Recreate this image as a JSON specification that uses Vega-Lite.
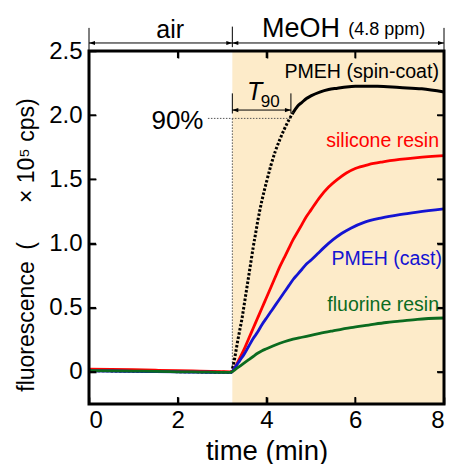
{
  "$schema": "https://vega.github.io/schema/vega-lite/v6.json",
  "width": 355,
  "height": 353,
  "autosize": {"type": "none"},
  "padding": {"left": 89, "top": 51, "right": 5, "bottom": 60},
  "config": {
    "view": {"stroke": null},
    "font": "Liberation Sans",
    "axis": {"domain": false, "grid": false, "ticks": true, "tickColor": "black", "tickWidth": 1.6, "tickOpacity": 1, "labelColor": "black", "labelFont": "Liberation Sans", "titleFont": "Liberation Sans", "titleColor": "black", "titleFontWeight": "normal"}
  },
  "datasets": {
    "curves": [
      {"s":"spin","t":0,"y":0.01},{"s":"spin","t":0.5,"y":0.008},{"s":"spin","t":1,"y":0.006},{"s":"spin","t":1.5,"y":0.004},{"s":"spin","t":2,"y":0.002},{"s":"spin","t":2.5,"y":0.0},{"s":"spin","t":3,"y":-0.003},{"s":"spin","t":3.2,"y":-0.004},{"s":"spin","t":3.25,"y":0.05},{"s":"spin","t":3.3,"y":0.14},{"s":"spin","t":3.35,"y":0.24},{"s":"spin","t":3.4,"y":0.33},{"s":"spin","t":3.45,"y":0.42},{"s":"spin","t":3.5,"y":0.53},{"s":"spin","t":3.55,"y":0.64},{"s":"spin","t":3.6,"y":0.75},{"s":"spin","t":3.65,"y":0.86},{"s":"spin","t":3.7,"y":0.97},{"s":"spin","t":3.75,"y":1.07},{"s":"spin","t":3.8,"y":1.17},{"s":"spin","t":3.85,"y":1.26},{"s":"spin","t":3.9,"y":1.34},{"s":"spin","t":4.0,"y":1.48},{"s":"spin","t":4.1,"y":1.61},{"s":"spin","t":4.2,"y":1.72},{"s":"spin","t":4.3,"y":1.81},{"s":"spin","t":4.4,"y":1.89},{"s":"spin","t":4.5,"y":1.96},{"s":"spin","t":4.6,"y":2.02},{"s":"spin","t":4.7,"y":2.07},{"s":"spin","t":4.8,"y":2.1},{"s":"spin","t":4.9,"y":2.13},{"s":"spin","t":5.0,"y":2.15},{"s":"spin","t":5.2,"y":2.18},{"s":"spin","t":5.4,"y":2.2},{"s":"spin","t":5.6,"y":2.21},{"s":"spin","t":5.8,"y":2.22},{"s":"spin","t":6.0,"y":2.225},{"s":"spin","t":6.5,"y":2.225},{"s":"spin","t":7.0,"y":2.215},{"s":"spin","t":7.5,"y":2.205},{"s":"spin","t":8.0,"y":2.18},
      {"s":"silicone","t":0,"y":0.022},{"s":"silicone","t":0.5,"y":0.02},{"s":"silicone","t":1,"y":0.017},{"s":"silicone","t":1.5,"y":0.013},{"s":"silicone","t":2,"y":0.01},{"s":"silicone","t":2.5,"y":0.006},{"s":"silicone","t":3,"y":0.002},{"s":"silicone","t":3.2,"y":0.0},{"s":"silicone","t":3.3,"y":0.04},{"s":"silicone","t":3.4,"y":0.11},{"s":"silicone","t":3.5,"y":0.18},{"s":"silicone","t":3.6,"y":0.26},{"s":"silicone","t":3.7,"y":0.34},{"s":"silicone","t":3.8,"y":0.42},{"s":"silicone","t":3.9,"y":0.5},{"s":"silicone","t":4.0,"y":0.58},{"s":"silicone","t":4.1,"y":0.66},{"s":"silicone","t":4.2,"y":0.74},{"s":"silicone","t":4.3,"y":0.82},{"s":"silicone","t":4.4,"y":0.89},{"s":"silicone","t":4.5,"y":0.96},{"s":"silicone","t":4.6,"y":1.03},{"s":"silicone","t":4.7,"y":1.09},{"s":"silicone","t":4.8,"y":1.15},{"s":"silicone","t":4.9,"y":1.21},{"s":"silicone","t":5.0,"y":1.26},{"s":"silicone","t":5.2,"y":1.36},{"s":"silicone","t":5.4,"y":1.44},{"s":"silicone","t":5.6,"y":1.5},{"s":"silicone","t":5.8,"y":1.55},{"s":"silicone","t":6.0,"y":1.585},{"s":"silicone","t":6.3,"y":1.615},{"s":"silicone","t":6.6,"y":1.635},{"s":"silicone","t":7.0,"y":1.655},{"s":"silicone","t":7.4,"y":1.67},{"s":"silicone","t":8.0,"y":1.685},
      {"s":"cast","t":0,"y":0.008},{"s":"cast","t":0.5,"y":0.007},{"s":"cast","t":1,"y":0.004},{"s":"cast","t":1.5,"y":0.002},{"s":"cast","t":2,"y":0.0},{"s":"cast","t":2.5,"y":-0.002},{"s":"cast","t":3,"y":-0.004},{"s":"cast","t":3.2,"y":-0.004},{"s":"cast","t":3.3,"y":0.04},{"s":"cast","t":3.4,"y":0.09},{"s":"cast","t":3.5,"y":0.14},{"s":"cast","t":3.6,"y":0.2},{"s":"cast","t":3.7,"y":0.26},{"s":"cast","t":3.8,"y":0.31},{"s":"cast","t":3.9,"y":0.37},{"s":"cast","t":4.0,"y":0.42},{"s":"cast","t":4.1,"y":0.47},{"s":"cast","t":4.2,"y":0.52},{"s":"cast","t":4.3,"y":0.57},{"s":"cast","t":4.4,"y":0.62},{"s":"cast","t":4.5,"y":0.67},{"s":"cast","t":4.6,"y":0.72},{"s":"cast","t":4.7,"y":0.76},{"s":"cast","t":4.8,"y":0.8},{"s":"cast","t":4.9,"y":0.84},{"s":"cast","t":5.0,"y":0.87},{"s":"cast","t":5.15,"y":0.92},{"s":"cast","t":5.3,"y":0.97},{"s":"cast","t":5.5,"y":1.03},{"s":"cast","t":5.7,"y":1.08},{"s":"cast","t":5.9,"y":1.12},{"s":"cast","t":6.2,"y":1.165},{"s":"cast","t":6.6,"y":1.2},{"s":"cast","t":7.0,"y":1.225},{"s":"cast","t":7.4,"y":1.245},{"s":"cast","t":8.0,"y":1.27},
      {"s":"fluorine","t":0,"y":0.01},{"s":"fluorine","t":0.5,"y":0.008},{"s":"fluorine","t":1,"y":0.006},{"s":"fluorine","t":1.5,"y":0.004},{"s":"fluorine","t":2,"y":0.001},{"s":"fluorine","t":2.5,"y":-0.001},{"s":"fluorine","t":3,"y":-0.003},{"s":"fluorine","t":3.2,"y":-0.003},{"s":"fluorine","t":3.3,"y":0.02},{"s":"fluorine","t":3.4,"y":0.045},{"s":"fluorine","t":3.5,"y":0.07},{"s":"fluorine","t":3.6,"y":0.095},{"s":"fluorine","t":3.7,"y":0.12},{"s":"fluorine","t":3.8,"y":0.145},{"s":"fluorine","t":3.9,"y":0.165},{"s":"fluorine","t":4.0,"y":0.18},{"s":"fluorine","t":4.2,"y":0.21},{"s":"fluorine","t":4.4,"y":0.235},{"s":"fluorine","t":4.6,"y":0.255},{"s":"fluorine","t":4.8,"y":0.27},{"s":"fluorine","t":5.0,"y":0.285},{"s":"fluorine","t":5.2,"y":0.3},{"s":"fluorine","t":5.5,"y":0.32},{"s":"fluorine","t":5.9,"y":0.345},{"s":"fluorine","t":6.3,"y":0.365},{"s":"fluorine","t":6.7,"y":0.385},{"s":"fluorine","t":7.0,"y":0.395},{"s":"fluorine","t":7.4,"y":0.41},{"s":"fluorine","t":8.0,"y":0.42}
    ],
    "segments": [
      {"x":0,"x2":3.23,"y":2.5625,"y2":2.5625},
      {"x":3.23,"x2":8,"y":2.5625,"y2":2.5625},
      {"x":0,"x2":0,"y":2.5,"y2":2.68},
      {"x":3.23,"x2":3.23,"y":2.53,"y2":2.69},
      {"x":8,"x2":8,"y":2.5,"y2":2.68},
      {"x":3.23,"x2":4.55,"y":2.04,"y2":2.04},
      {"x":3.23,"x2":3.23,"y":2.013,"y2":2.17},
      {"x":4.55,"x2":4.55,"y":2.013,"y2":2.17}
    ],
    "heads": [
      {"x":0,"y":2.5625,"d":"left"},
      {"x":3.23,"y":2.5625,"d":"right"},
      {"x":3.23,"y":2.5625,"d":"left"},
      {"x":8,"y":2.5625,"d":"right"},
      {"x":3.23,"y":2.04,"d":"left"},
      {"x":4.55,"y":2.04,"d":"right"}
    ],
    "guides": [
      {"x":2.68,"x2":4.55,"y":1.975,"y2":1.975},
      {"x":3.23,"x2":3.23,"y":0,"y2":1.975}
    ],
    "ticks": [
      {"x":2,"y":-0.25,"side":"bottom"},{"x":4,"y":-0.25,"side":"bottom"},{"x":6,"y":-0.25,"side":"bottom"},
      {"x":2,"y":2.5,"side":"top"},{"x":4,"y":2.5,"side":"top"},{"x":6,"y":2.5,"side":"top"},
      {"x":0,"y":0,"side":"left"},{"x":0,"y":0.5,"side":"left"},{"x":0,"y":1,"side":"left"},{"x":0,"y":1.5,"side":"left"},{"x":0,"y":2,"side":"left"},
      {"x":8,"y":0,"side":"right"},{"x":8,"y":0.5,"side":"right"},{"x":8,"y":1,"side":"right"},{"x":8,"y":1.5,"side":"right"},{"x":8,"y":2,"side":"right"}
    ]
  },
  "layer": [
    {
      "data": {"values": [{"a": 3.23, "b": 8, "lo": -0.25, "hi": 2.5}]},
      "mark": {"type": "rect", "color": "#fdebc9"},
      "encoding": {
        "x": {"field": "a", "type": "quantitative", "scale": {"domain": [0, 8], "nice": false, "zero": false},
          "axis": {"orient": "bottom", "zindex": 2, "offset": -7, "values": [0, 2, 4, 6, 8], "format": "d", "labelFontSize": 24, "ticks": true, "tickSize": 7, "tickColor": "black", "tickWidth": 1.6, "labelPadding": 4, "title": "time (min)", "titleFontSize": 27.5, "titleY": 62, "titleBaseline": "alphabetic"}},
        "x2": {"field": "b"},
        "y": {"field": "lo", "type": "quantitative", "scale": {"domain": [-0.25, 2.5], "nice": false, "zero": false},
          "axis": {"orient": "left", "zindex": 2, "offset": -7, "values": [0, 0.5, 1, 1.5, 2, 2.5], "labelExpr": "datum.value == 0 ? '0' : format(datum.value, '.1f')", "labelFontSize": 24, "ticks": true, "tickSize": 7, "tickColor": "black", "tickWidth": 1.6, "labelPadding": 7, "title": "fluorescence\u2002(\u2003\u2002\u2009× 10⁵ cps)", "titleFontSize": 23, "titleX": -63, "titleY": 193.5, "titleAngle": -90, "titleAlign": "center", "titleBaseline": "alphabetic"}},
        "y2": {"field": "hi"}
      }
    },
    {
      "data": {"name": "guides"},
      "mark": {"type": "rule", "color": "#555555", "strokeWidth": 1, "strokeDash": [1.5, 1.5]},
      "encoding": {
        "x": {"field": "x", "type": "quantitative", "scale": {"domain": [0, 8], "nice": false, "zero": false}, "axis": null},
        "x2": {"field": "x2"},
        "y": {"field": "y", "type": "quantitative", "scale": {"domain": [-0.25, 2.5], "nice": false, "zero": false}, "axis": null},
        "y2": {"field": "y2"}
      }
    },
    {
      "data": {"name": "curves"},
      "transform": [{"filter": "datum.s == 'spin' && datum.t <= 4.6"}],
      "mark": {"type": "line", "interpolate": "monotone", "color": "black", "strokeWidth": 3, "strokeDash": [2.5, 1.8]},
      "encoding": {
        "x": {"field": "t", "type": "quantitative", "scale": {"domain": [0, 8], "nice": false, "zero": false}, "axis": {"orient": "top", "zindex": 2, "offset": -7, "values": [2, 4, 6], "labels": false, "ticks": true, "tickSize": 7, "tickColor": "black", "tickWidth": 1.6, "title": null}},
        "y": {"field": "y", "type": "quantitative", "scale": {"domain": [-0.25, 2.5], "nice": false, "zero": false}, "axis": {"orient": "right", "zindex": 2, "offset": -7, "values": [0, 0.5, 1, 1.5, 2], "labels": false, "ticks": true, "tickSize": 7, "tickColor": "black", "tickWidth": 1.6, "title": null}}
      }
    },
    {
      "data": {"name": "curves"},
      "transform": [{"filter": "datum.s == 'spin' && datum.t >= 4.6"}],
      "mark": {"type": "line", "interpolate": "monotone", "color": "black", "strokeWidth": 3},
      "encoding": {
        "x": {"field": "t", "type": "quantitative", "scale": {"domain": [0, 8], "nice": false, "zero": false}, "axis": null},
        "y": {"field": "y", "type": "quantitative", "scale": {"domain": [-0.25, 2.5], "nice": false, "zero": false}, "axis": null}
      }
    },
    {
      "data": {"name": "curves"},
      "transform": [{"filter": "datum.s == 'silicone'"}],
      "mark": {"type": "line", "interpolate": "monotone", "color": "#ff0000", "strokeWidth": 2.8},
      "encoding": {
        "x": {"field": "t", "type": "quantitative", "scale": {"domain": [0, 8], "nice": false, "zero": false}, "axis": null},
        "y": {"field": "y", "type": "quantitative", "scale": {"domain": [-0.25, 2.5], "nice": false, "zero": false}, "axis": null}
      }
    },
    {
      "data": {"name": "curves"},
      "transform": [{"filter": "datum.s == 'cast'"}],
      "mark": {"type": "line", "interpolate": "monotone", "color": "#1414d2", "strokeWidth": 2.8},
      "encoding": {
        "x": {"field": "t", "type": "quantitative", "scale": {"domain": [0, 8], "nice": false, "zero": false}, "axis": null},
        "y": {"field": "y", "type": "quantitative", "scale": {"domain": [-0.25, 2.5], "nice": false, "zero": false}, "axis": null}
      }
    },
    {
      "data": {"name": "curves"},
      "transform": [{"filter": "datum.s == 'fluorine'"}],
      "mark": {"type": "line", "interpolate": "monotone", "color": "#0b6b1f", "strokeWidth": 2.8},
      "encoding": {
        "x": {"field": "t", "type": "quantitative", "scale": {"domain": [0, 8], "nice": false, "zero": false}, "axis": null},
        "y": {"field": "y", "type": "quantitative", "scale": {"domain": [-0.25, 2.5], "nice": false, "zero": false}, "axis": null}
      }
    },
    {
      "data": {"values": [{"a": 0, "b": 8, "lo": -0.25, "hi": 2.5}]},
      "mark": {"type": "rect", "fill": null, "filled": false, "stroke": "black", "strokeWidth": 3},
      "encoding": {
        "x": {"field": "a", "type": "quantitative", "scale": {"domain": [0, 8], "nice": false, "zero": false}, "axis": null},
        "x2": {"field": "b"},
        "y": {"field": "lo", "type": "quantitative", "scale": {"domain": [-0.25, 2.5], "nice": false, "zero": false}, "axis": null},
        "y2": {"field": "hi"}
      }
    },
    {
      "data": {"name": "ticks"},
      "transform": [{"filter": "datum.side == 'bottom'"}],
      "mark": {"type": "tick", "orient": "vertical", "size": 7, "thickness": 1.6, "color": "black", "opacity": 1, "yOffset": -3.5},
      "encoding": {
        "x": {"field": "x", "type": "quantitative", "scale": {"domain": [0, 8], "nice": false, "zero": false}, "axis": null},
        "y": {"field": "y", "type": "quantitative", "scale": {"domain": [-0.25, 2.5], "nice": false, "zero": false}, "axis": null}
      }
    },
    {
      "data": {"name": "ticks"},
      "transform": [{"filter": "datum.side == 'top'"}],
      "mark": {"type": "tick", "orient": "vertical", "size": 7, "thickness": 1.6, "color": "black", "opacity": 1, "yOffset": 3.5},
      "encoding": {
        "x": {"field": "x", "type": "quantitative", "scale": {"domain": [0, 8], "nice": false, "zero": false}, "axis": null},
        "y": {"field": "y", "type": "quantitative", "scale": {"domain": [-0.25, 2.5], "nice": false, "zero": false}, "axis": null}
      }
    },
    {
      "data": {"name": "ticks"},
      "transform": [{"filter": "datum.side == 'left'"}],
      "mark": {"type": "tick", "orient": "horizontal", "size": 7, "thickness": 1.6, "color": "black", "opacity": 1, "xOffset": 3.5},
      "encoding": {
        "x": {"field": "x", "type": "quantitative", "scale": {"domain": [0, 8], "nice": false, "zero": false}, "axis": null},
        "y": {"field": "y", "type": "quantitative", "scale": {"domain": [-0.25, 2.5], "nice": false, "zero": false}, "axis": null}
      }
    },
    {
      "data": {"name": "ticks"},
      "transform": [{"filter": "datum.side == 'right'"}],
      "mark": {"type": "tick", "orient": "horizontal", "size": 7, "thickness": 1.6, "color": "black", "opacity": 1, "xOffset": -3.5},
      "encoding": {
        "x": {"field": "x", "type": "quantitative", "scale": {"domain": [0, 8], "nice": false, "zero": false}, "axis": null},
        "y": {"field": "y", "type": "quantitative", "scale": {"domain": [-0.25, 2.5], "nice": false, "zero": false}, "axis": null}
      }
    },
    {
      "data": {"name": "segments"},
      "mark": {"type": "rule", "color": "black", "strokeWidth": 1},
      "encoding": {
        "x": {"field": "x", "type": "quantitative", "scale": {"domain": [0, 8], "nice": false, "zero": false}, "axis": null},
        "x2": {"field": "x2"},
        "y": {"field": "y", "type": "quantitative", "scale": {"domain": [-0.25, 2.5], "nice": false, "zero": false}, "axis": null},
        "y2": {"field": "y2"}
      }
    },
    {
      "data": {"name": "heads"},
      "transform": [{"filter": "datum.d == 'left'"}],
      "mark": {"type": "point", "shape": "M0,0L2,-0.7L2,0.7Z", "size": 36, "filled": true, "color": "black", "opacity": 1, "strokeWidth": 0},
      "encoding": {
        "x": {"field": "x", "type": "quantitative", "scale": {"domain": [0, 8], "nice": false, "zero": false}, "axis": null},
        "y": {"field": "y", "type": "quantitative", "scale": {"domain": [-0.25, 2.5], "nice": false, "zero": false}, "axis": null}
      }
    },
    {
      "data": {"name": "heads"},
      "transform": [{"filter": "datum.d == 'right'"}],
      "mark": {"type": "point", "shape": "M0,0L-2,-0.7L-2,0.7Z", "size": 36, "filled": true, "color": "black", "opacity": 1, "strokeWidth": 0},
      "encoding": {
        "x": {"field": "x", "type": "quantitative", "scale": {"domain": [0, 8], "nice": false, "zero": false}, "axis": null},
        "y": {"field": "y", "type": "quantitative", "scale": {"domain": [-0.25, 2.5], "nice": false, "zero": false}, "axis": null}
      }
    },
    {
      "data": {"values": [{"x": 1.83, "y": 2.6, "label": "air"}]},
      "mark": {"type": "text", "align": "center", "baseline": "alphabetic", "fontSize": 25, "color": "black"},
      "encoding": {
        "x": {"field": "x", "type": "quantitative", "scale": {"domain": [0, 8], "nice": false, "zero": false}, "axis": null},
        "y": {"field": "y", "type": "quantitative", "scale": {"domain": [-0.25, 2.5], "nice": false, "zero": false}, "axis": null},
        "text": {"field": "label"}
      }
    },
    {
      "data": {"values": [{"x": 3.9, "y": 2.607, "label": "MeOH"}]},
      "mark": {"type": "text", "align": "left", "baseline": "alphabetic", "fontSize": 27, "color": "black"},
      "encoding": {
        "x": {"field": "x", "type": "quantitative", "scale": {"domain": [0, 8], "nice": false, "zero": false}, "axis": null},
        "y": {"field": "y", "type": "quantitative", "scale": {"domain": [-0.25, 2.5], "nice": false, "zero": false}, "axis": null},
        "text": {"field": "label"}
      }
    },
    {
      "data": {"values": [{"x": 5.84, "y": 2.622, "label": "(4.8 ppm)"}]},
      "mark": {"type": "text", "align": "left", "baseline": "alphabetic", "fontSize": 18, "color": "black"},
      "encoding": {
        "x": {"field": "x", "type": "quantitative", "scale": {"domain": [0, 8], "nice": false, "zero": false}, "axis": null},
        "y": {"field": "y", "type": "quantitative", "scale": {"domain": [-0.25, 2.5], "nice": false, "zero": false}, "axis": null},
        "text": {"field": "label"}
      }
    },
    {
      "data": {"values": [{"x": 7.887, "y": 2.287, "label": "PMEH (spin-coat)"}]},
      "mark": {"type": "text", "align": "right", "baseline": "alphabetic", "fontSize": 19.6, "color": "black"},
      "encoding": {
        "x": {"field": "x", "type": "quantitative", "scale": {"domain": [0, 8], "nice": false, "zero": false}, "axis": null},
        "y": {"field": "y", "type": "quantitative", "scale": {"domain": [-0.25, 2.5], "nice": false, "zero": false}, "axis": null},
        "text": {"field": "label"}
      }
    },
    {
      "data": {"values": [{"x": 7.887, "y": 1.755, "label": "silicone resin"}]},
      "mark": {"type": "text", "align": "right", "baseline": "alphabetic", "fontSize": 19.5, "color": "#ff0000"},
      "encoding": {
        "x": {"field": "x", "type": "quantitative", "scale": {"domain": [0, 8], "nice": false, "zero": false}, "axis": null},
        "y": {"field": "y", "type": "quantitative", "scale": {"domain": [-0.25, 2.5], "nice": false, "zero": false}, "axis": null},
        "text": {"field": "label"}
      }
    },
    {
      "data": {"values": [{"x": 7.955, "y": 0.83, "label": "PMEH (cast)"}]},
      "mark": {"type": "text", "align": "right", "baseline": "alphabetic", "fontSize": 19.5, "color": "#1414d2"},
      "encoding": {
        "x": {"field": "x", "type": "quantitative", "scale": {"domain": [0, 8], "nice": false, "zero": false}, "axis": null},
        "y": {"field": "y", "type": "quantitative", "scale": {"domain": [-0.25, 2.5], "nice": false, "zero": false}, "axis": null},
        "text": {"field": "label"}
      }
    },
    {
      "data": {"values": [{"x": 7.887, "y": 0.477, "label": "fluorine resin"}]},
      "mark": {"type": "text", "align": "right", "baseline": "alphabetic", "fontSize": 19.5, "color": "#0b6b1f"},
      "encoding": {
        "x": {"field": "x", "type": "quantitative", "scale": {"domain": [0, 8], "nice": false, "zero": false}, "axis": null},
        "y": {"field": "y", "type": "quantitative", "scale": {"domain": [-0.25, 2.5], "nice": false, "zero": false}, "axis": null},
        "text": {"field": "label"}
      }
    },
    {
      "data": {"values": [{"x": 2.58, "y": 1.89, "label": "90%"}]},
      "mark": {"type": "text", "align": "right", "baseline": "alphabetic", "fontSize": 26, "color": "black"},
      "encoding": {
        "x": {"field": "x", "type": "quantitative", "scale": {"domain": [0, 8], "nice": false, "zero": false}, "axis": null},
        "y": {"field": "y", "type": "quantitative", "scale": {"domain": [-0.25, 2.5], "nice": false, "zero": false}, "axis": null},
        "text": {"field": "label"}
      }
    },
    {
      "data": {"values": [{"x": 3.56, "y": 2.117, "label": "T"}]},
      "mark": {"type": "text", "align": "left", "baseline": "alphabetic", "fontSize": 25, "fontStyle": "italic", "color": "black"},
      "encoding": {
        "x": {"field": "x", "type": "quantitative", "scale": {"domain": [0, 8], "nice": false, "zero": false}, "axis": null},
        "y": {"field": "y", "type": "quantitative", "scale": {"domain": [-0.25, 2.5], "nice": false, "zero": false}, "axis": null},
        "text": {"field": "label"}
      }
    },
    {
      "data": {"values": [{"x": 3.87, "y": 2.065, "label": "90"}]},
      "mark": {"type": "text", "align": "left", "baseline": "alphabetic", "fontSize": 17, "color": "black"},
      "encoding": {
        "x": {"field": "x", "type": "quantitative", "scale": {"domain": [0, 8], "nice": false, "zero": false}, "axis": null},
        "y": {"field": "y", "type": "quantitative", "scale": {"domain": [-0.25, 2.5], "nice": false, "zero": false}, "axis": null},
        "text": {"field": "label"}
      }
    }
  ]
}
